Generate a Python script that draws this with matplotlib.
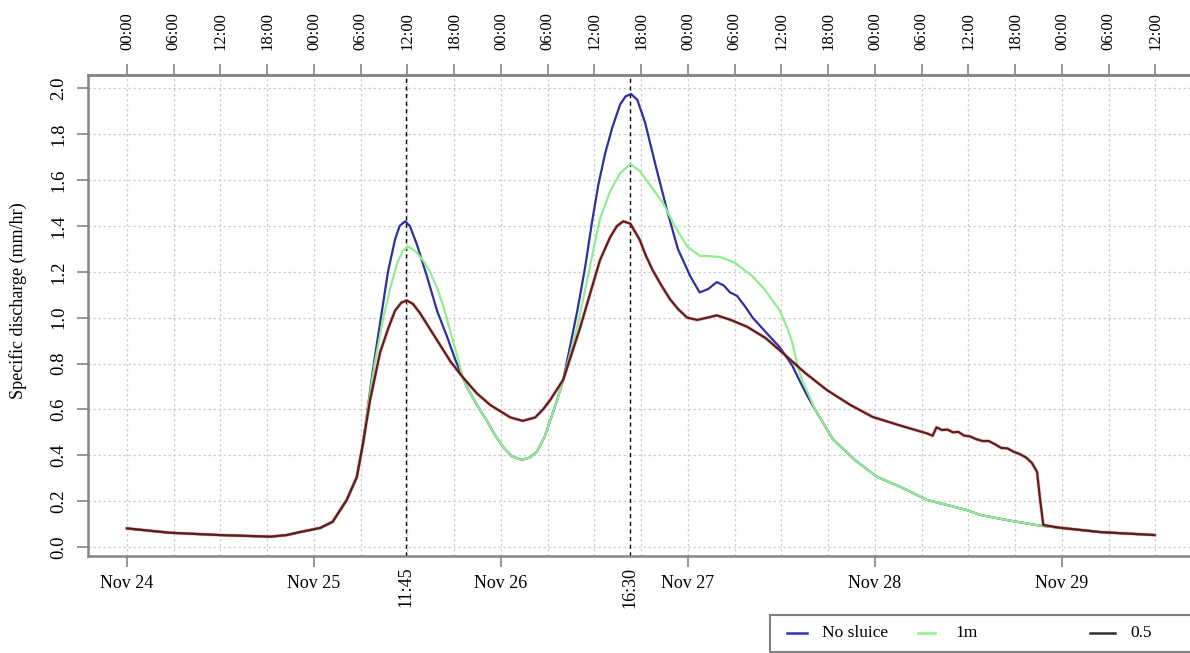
import matplotlib
matplotlib.use("Agg")
import matplotlib.pyplot as plt
from matplotlib.lines import Line2D
from matplotlib.patches import Rectangle

plt.rcParams['font.family'] = ['Liberation Serif', 'DejaVu Serif']

# ---------------- data (hours since Nov 24 00:00, specific discharge mm/hr) ----------------
t_half = [0, 5.5, 11.9, 18.4, 20.5, 22.2, 24.8, 26.4, 28.2, 29.5, 30.3, 31.2, 32.5, 33.5, 34.4,
          35.2, 35.9, 36.7, 37.6, 38.9, 40.2, 41.5, 43.1, 44.9, 46.6, 48.0, 49.2, 50.8, 52.4, 53.4,
          54.3, 56.0, 58.1, 59.4, 60.7, 62.0, 62.9, 63.7, 64.6, 65.8, 66.6, 67.5, 68.6, 69.7, 70.8,
          71.9, 73.2, 74.5, 75.7, 77.5, 79.6, 82.0, 84.2, 87.0, 89.8, 92.8, 95.7, 99.2, 102.7,
          103.4, 103.9, 104.6, 105.3, 106.0, 106.7, 107.4, 108.2, 109.0, 109.8, 110.6, 111.4,
          112.2, 113.0, 113.8, 114.6, 115.4, 116.15, 116.8, 117.2, 117.6, 119.7, 124.9, 131.9]
q_half = [0.081, 0.062, 0.052, 0.045, 0.052, 0.065, 0.083, 0.11, 0.205, 0.305, 0.453, 0.64, 0.85,
          0.95, 1.03, 1.065, 1.075, 1.06, 1.02, 0.95, 0.88, 0.81, 0.74, 0.67, 0.62, 0.59, 0.565,
          0.55, 0.565, 0.60, 0.64, 0.73, 0.95, 1.1, 1.25, 1.35, 1.40, 1.42, 1.41, 1.34, 1.27,
          1.205, 1.14, 1.08, 1.035, 1.0, 0.99, 1.0, 1.01, 0.99, 0.96, 0.91, 0.845, 0.76, 0.685,
          0.62, 0.567, 0.53, 0.495, 0.485, 0.522, 0.51, 0.512, 0.5, 0.502, 0.486, 0.482, 0.47,
          0.462, 0.462, 0.448, 0.432, 0.43, 0.415, 0.405, 0.39, 0.366, 0.327, 0.205, 0.096,
          0.084, 0.065, 0.052]

t_nosluice = [0, 5.5, 11.9, 18.4, 20.5, 22.2, 24.8, 26.4, 28.2, 29.5, 30.3, 30.8, 31.6, 32.5,
              33.5, 34.4, 35.0, 35.7, 36.3, 37.2, 38.5, 39.8, 41.1, 42.1, 42.7, 43.1, 43.6, 44.9,
              46.2, 47.2, 48.3, 49.4, 50.7, 51.7, 52.6, 53.6, 54.3, 55.2, 56.0, 56.9, 57.8, 58.8,
              59.7, 60.5, 61.4, 62.3, 63.3, 64.0, 64.7, 65.5, 66.5, 67.8, 69.3, 70.7, 72.3, 73.5,
              74.6, 75.7, 76.6, 77.4, 78.3, 79.3, 80.3, 81.9, 83.8, 85.4, 86.4, 87.3, 88.3, 90.6,
              93.4, 96.3, 99.2, 102.7, 107.8, 109.5, 113.3, 117.2, 119.7, 124.9, 131.9]
q_nosluice = [0.081, 0.062, 0.052, 0.045, 0.052, 0.065, 0.083, 0.11, 0.205, 0.305, 0.453, 0.58,
              0.78, 0.98, 1.2, 1.34, 1.40, 1.42, 1.40, 1.32, 1.18, 1.03, 0.915, 0.82, 0.77, 0.74,
              0.70, 0.62, 0.55, 0.49, 0.435, 0.395, 0.38, 0.39, 0.415, 0.48, 0.55, 0.64, 0.73,
              0.88, 1.03, 1.22, 1.42, 1.58, 1.72, 1.83, 1.93, 1.965, 1.975, 1.95, 1.85, 1.67,
              1.47, 1.30, 1.18, 1.11, 1.125, 1.155, 1.14, 1.11, 1.095, 1.05, 1.0, 0.94, 0.87,
              0.79, 0.72, 0.66, 0.6, 0.47, 0.38, 0.305, 0.263, 0.205, 0.161, 0.14, 0.115, 0.093,
              0.084, 0.065, 0.052]

t_1m = [0, 5.5, 11.9, 18.4, 20.5, 22.2, 24.8, 26.4, 28.2, 29.5, 30.3, 30.8, 31.8, 32.9, 33.8,
        34.7, 35.4, 36.1, 37.0, 38.0, 38.9, 39.8, 40.6, 41.5, 42.4, 43.1, 43.6, 44.9, 46.2, 47.2,
        48.3, 49.4, 50.7, 51.7, 52.6, 53.6, 54.3, 55.2, 56.0, 57.8, 59.4, 60.7, 62.0, 63.3, 64.6,
        65.8, 67.1, 68.8, 70.3, 71.9, 73.5, 76.1, 78.0, 80.3, 81.9, 83.8, 84.8, 85.4, 86.0, 86.6,
        87.3, 88.3, 90.6, 93.4, 96.3, 99.2, 102.7, 107.8, 109.5, 113.3, 117.2, 119.7, 124.9, 131.9]
q_1m = [0.081, 0.062, 0.052, 0.045, 0.052, 0.065, 0.083, 0.11, 0.205, 0.305, 0.453, 0.58, 0.80,
        1.0, 1.13, 1.24, 1.29, 1.31, 1.29, 1.25, 1.2, 1.13, 1.05, 0.94, 0.83, 0.74, 0.70, 0.62,
        0.55, 0.49, 0.435, 0.395, 0.38, 0.39, 0.415, 0.48, 0.55, 0.64, 0.73, 0.96, 1.22, 1.43,
        1.55, 1.63, 1.67, 1.64, 1.58, 1.50, 1.40, 1.31, 1.27, 1.265, 1.24, 1.18, 1.12, 1.03,
        0.95, 0.89, 0.80, 0.73, 0.68, 0.6, 0.47, 0.38, 0.305, 0.263, 0.205, 0.161, 0.14, 0.115,
        0.093, 0.084, 0.065, 0.052]

series_labels = ["No sluice", "1m", "0.5"]
series_colors = ["#2f2f9f", "#90ee90", "#5e1c1c"]

day_ticks = [0, 24, 48, 72, 96, 120]
day_labels = ["Nov 24", "Nov 25", "Nov 26", "Nov 27", "Nov 28", "Nov 29"]
hour_ticks = list(range(0, 133, 6))
hour_labels = ["%02d:00" % (h % 24) for h in hour_ticks]
peak_times = [35.75, 64.5]
peak_labels = ["11:45", "16:30"]
y_ticks = [0.0, 0.2, 0.4, 0.6, 0.8, 1.0, 1.2, 1.4, 1.6, 1.8, 2.0]

# ---------------- figure ----------------
W, H = 1190, 653
fig = plt.figure(figsize=(W / 100, H / 100), dpi=100)
ax = fig.add_axes([88 / W, 1 - 555.7 / H, (1196 - 88) / W, (555.7 - 75) / H])

spine_col = "#858585"
grid_kw = dict(color="#cfcfcf", linestyle=(0, (2, 2)), linewidth=0.9)

ax.set_xlim(-5.0, 137.2)
ax.set_ylim(-0.038, 2.058)

ax.plot(t_nosluice, q_nosluice, color=series_colors[0], lw=1.6, zorder=3)
ax.plot(t_1m, q_1m, color=series_colors[1], lw=1.6, zorder=4)
ax.plot(t_half, q_half, color="#e06060", lw=2.6, alpha=0.35, zorder=5)
ax.plot(t_half, q_half, color=series_colors[2], lw=1.6, zorder=6)

for pt in peak_times:
    ax.axvline(pt, color="black", lw=1.0, linestyle=(0, (3, 2.5)), zorder=2)

# grid
ax.set_xticks(day_ticks)
ax.set_xticks(hour_ticks, minor=True)
ax.set_yticks(y_ticks)
ax.grid(True, which="both", axis="x", **grid_kw)
ax.grid(True, which="major", axis="y", **grid_kw)
ax.set_axisbelow(True)

ax.set_xticklabels(day_labels, fontsize=13)
ax.set_yticklabels(["%.1f" % v for v in y_ticks], rotation=90, va="center", fontsize=13.5)
ax.tick_params(axis="x", which="major", length=8, width=1.2, color=spine_col, pad=6)
ax.tick_params(axis="x", which="minor", length=0)
ax.tick_params(axis="y", which="major", length=8, width=1.2, color=spine_col, pad=7)

for s in ax.spines.values():
    s.set_color(spine_col)
    s.set_linewidth(1.8)

ax.set_ylabel("Specific discharge (mm/hr)", fontsize=13)
ax.yaxis.set_label_coords(-0.055, 0.53)

# top axis with 6-hourly labels
top = ax.secondary_xaxis("top")
top.set_xticks(hour_ticks)
top.set_xticklabels(hour_labels, rotation=90, fontsize=12)
top.tick_params(length=8, width=1.2, color=spine_col, pad=10)
top.spines["top"].set_color(spine_col)
top.spines["top"].set_linewidth(1.8)

for pt, lab in zip(peak_times, peak_labels):
    ax.annotate(lab, xy=(pt, 0), xycoords=("data", "axes fraction"),
                xytext=(0, -11), textcoords="offset pixels",
                rotation=90, ha="center", va="top", fontsize=13)

# legend (drawn in figure pixel coordinates)
def fx(px):
    return px / W

def fy(py):
    return 1 - py / H

fig.add_artist(Rectangle((fx(770), fy(652)), fx(1250) - fx(770), fy(615) - fy(652),
                         transform=fig.transFigure, facecolor="white",
                         edgecolor="#808080", linewidth=1.5))
leg_line_x = [(787, 807), (918, 935), (1090, 1115)]
leg_text_x = [822, 955, 1130]
leg_y = 633
for (x0, x1), tx, col, lab in zip(leg_line_x, leg_text_x, ["#3030c0", series_colors[1], "#303030"],
                                  series_labels):
    fig.add_artist(Line2D([fx(x0), fx(x1)], [fy(leg_y), fy(leg_y)], transform=fig.transFigure,
                          color=col, lw=1.8))
    fig.text(fx(tx), fy(leg_y), lab, ha="left", va="center", fontsize=12.5)

fig.savefig("out.png", dpi=100)
